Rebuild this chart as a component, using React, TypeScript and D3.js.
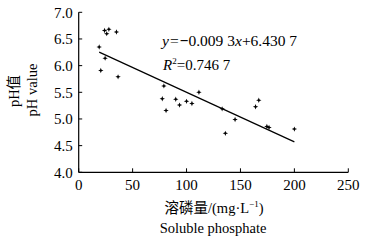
import React from "react";
import * as d3 from "d3";

const phosphate = [19, 20.5, 24.5, 24, 26, 28, 35, 36.5, 77.5, 79, 81, 90, 93.5, 100, 105, 111.5, 133, 136, 145, 164, 167, 174.5, 176.5, 200];
const phValue = [6.35, 5.91, 6.14, 6.66, 6.6, 6.68, 6.63, 5.79, 5.38, 5.62, 5.16, 5.37, 5.26, 5.33, 5.29, 5.5, 5.19, 4.73, 4.99, 5.23, 5.35, 4.86, 4.84, 4.81];
const xTicks = [0, 50, 100, 150, 200, 250];
const yTicks = [4.0, 4.5, 5.0, 5.5, 6.0, 6.5, 7.0];
const slope = -0.0093;
const intercept = 6.4307;
const fitRange = [19, 200];

const W = 366, H = 241;
const serif = "'Liberation Serif', 'Times New Roman', serif";
const cjk = "'Noto Sans CJK SC', sans-serif";

export default function App() {
  const x = d3.scaleLinear().domain([0, 250]).range([78.7, 348.3]);
  const y = d3.scaleLinear().domain([4, 7]).range([172.3, 12.3]);
  const starType = {
    draw(ctx: any, size: number) {
      const r = Math.sqrt(size) * 0.9;
      const k = r * 0.28;
      ctx.moveTo(0, -r);
      ctx.lineTo(k, -k);
      ctx.lineTo(r, 0);
      ctx.lineTo(k, k);
      ctx.lineTo(0, r);
      ctx.lineTo(-k, k);
      ctx.lineTo(-r, 0);
      ctx.lineTo(-k, -k);
      ctx.closePath();
    },
  };
  const star = d3.symbol().type(starType as any).size(9)() as string;
  const line = d3.line<number>().x((d) => x(d)).y((d) => y(slope * d + intercept));
  return (
    <svg width={W} height={H} style={{ position: "absolute", left: 0, top: 0, background: "#fff" }}>
      {/* axes */}
      <line x1={x(0)} x2={x(0)} y1={y(7)} y2={y(4)} stroke="#000" strokeWidth={1.2} />
      <line x1={x(0)} x2={x(250)} y1={y(4)} y2={y(4)} stroke="#000" strokeWidth={1.2} />
      {yTicks.map((t) => (
        <g key={"y" + t}>
          <line x1={x(0)} x2={x(0) + 3.5} y1={y(t)} y2={y(t)} stroke="#000" strokeWidth={1} />
          <text x={x(0) - 6} y={y(t)} dy="0.35em" textAnchor="end" fontFamily={serif} fontSize={15}>
            {t.toFixed(1)}
          </text>
        </g>
      ))}
      {xTicks.map((t) => (
        <g key={"x" + t}>
          <line x1={x(t)} x2={x(t)} y1={y(4)} y2={y(4) - 4} stroke="#000" strokeWidth={1} />
          <text x={x(t)} y={190} textAnchor="middle" fontFamily={serif} fontSize={15}>
            {t}
          </text>
        </g>
      ))}
      {/* fit line */}
      <path d={line(fitRange) as string} fill="none" stroke="#000" strokeWidth={1.2} />
      {/* points */}
      {phosphate.map((p, i) => (
        <path key={i} d={star} transform={`translate(${x(p)},${y(phValue[i])})`} fill="#000" />
      ))}
      {/* equation */}
      <text x={162} y={46} fontFamily={serif} fontSize={15.5}>
        <tspan fontStyle="italic">y</tspan>
        <tspan dx={1}>=</tspan>
        <tspan dx={1} fontWeight="bold">−</tspan>
        <tspan>0.009 3</tspan>
        <tspan fontStyle="italic">x</tspan>
        <tspan>+6.430 7</tspan>
      </text>
      <text x={163} y={70} fontFamily={serif} fontSize={15}>
        <tspan fontStyle="italic">R</tspan>
        <tspan fontSize={9} dy={-6}>2</tspan>
        <tspan dy={6}>=0.746 7</tspan>
      </text>
      {/* axis titles */}
      <text transform="translate(19,91) rotate(-90)" textAnchor="middle" fontSize={14.5}>
        <tspan fontFamily={serif}>pH</tspan>
        <tspan fontFamily={cjk}>值</tspan>
      </text>
      <text transform="translate(37,90) rotate(-90)" textAnchor="middle" fontFamily={serif} fontSize={14.5}>
        pH value
      </text>
      <text x={214} y={213} textAnchor="middle" fontSize={14.5}>
        <tspan fontFamily={cjk}>溶磷量</tspan>
        <tspan fontFamily={serif}>/(mg·L</tspan>
        <tspan fontFamily={serif} fontSize={9} dy={-6}>−1</tspan>
        <tspan fontFamily={serif} dy={6}>)</tspan>
      </text>
      <text x={213} y={233} textAnchor="middle" fontFamily={serif} fontSize={14.5}>
        Soluble phosphate
      </text>
    </svg>
  );
}
